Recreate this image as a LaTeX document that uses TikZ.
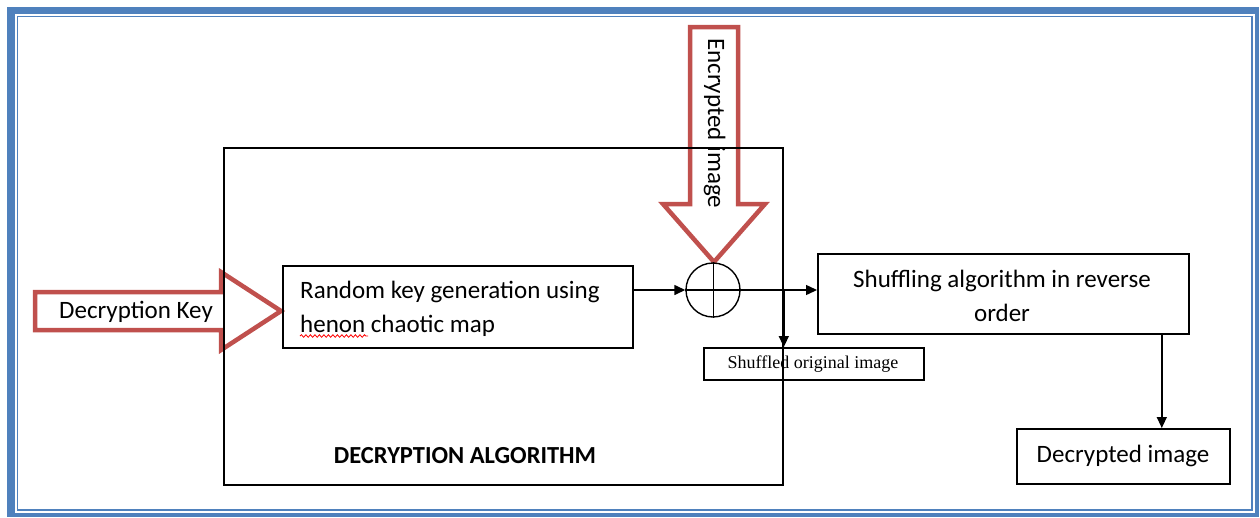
\documentclass[tikz,border=0pt]{standalone}
\usepackage{fontspec}
\setmainfont{Carlito}
\newfontfamily\labelserif{Liberation Serif}
\usetikzlibrary{arrows.meta,decorations.pathmorphing}
\definecolor{frameblue}{HTML}{4F81BD}
\definecolor{accentred}{HTML}{C0504D}

\begin{document}
\begin{tikzpicture}[x=1pt,y=-1pt,
  box/.style={draw=black, line width=1.8pt, inner sep=0pt, anchor=north west},
  conn/.style={draw=black, line width=1.4pt, -{Triangle[length=11pt,width=10pt]}},
  blockarrow/.style={draw=accentred, line width=4.5pt, line join=miter, fill=white},
  txt/.style={inner sep=0pt, font=\fontsize{25}{34}\selectfont}]

\useasboundingbox (0,0) rectangle (1260,517);

% page frame: thick outer band with a thin inner rule
\fill[frameblue] (7,7) rectangle (1259,517);
\fill[white] (15,14) rectangle (1255,513);
\draw[frameblue, line width=1.3pt] (17.5,16.5) rectangle (1252,510);

% hollow block arrows
\draw[blockarrow] (35,292) -- (221,292) -- (221,272) -- (281,311)
  -- (221,350) -- (221,330) -- (35,330) -- cycle;
\draw[blockarrow] (690,27) -- (738,27) -- (738,204) -- (765,204)
  -- (714,262) -- (663,204) -- (690,204) -- cycle;

\node[txt, anchor=base] (keytxt) at (136,318) {Decryption Key};
\node[txt, anchor=base west, rotate=-90] (enctxt) at (708,38) {Encrypted image};

% boxes
\node[box, minimum width=559pt, minimum height=337pt] (alg) at (223,147) {};
\node[box, minimum width=350pt, minimum height=82pt] (rand) at (282,265) {};
\node[box, minimum width=371pt, minimum height=80pt] (shuf) at (817,253) {};
\node[box, line width=1.5pt, minimum width=220pt, minimum height=32pt] (orig) at (703,347) {};
\node[box, minimum width=213pt, minimum height=55pt] (dec) at (1016,428) {};
\node[draw=black, line width=1.4pt, circle, minimum size=54pt, inner sep=0pt, fill=white] (xor) at (713,290) {};

% box texts
\node[txt, anchor=north west, align=left] (randtxt) at (300,280.5)
  {Random key generation using\\henon chaotic map};
\node[txt, anchor=north, align=center] (shuftxt) at (1002,269.5)
  {Shuffling algorithm in reverse\\order};
\node[txt, anchor=base] (dectxt) at (1123,462) {Decrypted image};
\node[inner sep=0pt, anchor=base, font=\labelserif\fontsize{18}{20}\selectfont] (origtxt)
  at (813,368) {Shuffled original image};
\node[inner sep=0pt, anchor=base, font=\bfseries\fontsize{24.5}{30}\selectfont] (algtxt)
  at (465,463) {DECRYPTION ALGORITHM};

% spell-check squiggle
\draw[red, line width=0.8pt, decorate,
  decoration={snake, amplitude=1.3pt, segment length=4.5pt}] (300,336) -- (368,336);

% connectors
\draw (xor.north) -- (xor.south);
\draw[conn] (rand.east |- xor) -- (xor.west);
\draw[conn] (xor.west) -- (shuf.west |- xor);
\draw[conn] (alg.east |- xor) -- (alg.east |- orig.north);
\coordinate (drop) at ([xshift=-28pt]shuf.south east);
\draw[conn] (drop) -- (drop |- dec.north);
\end{tikzpicture}
\end{document}
